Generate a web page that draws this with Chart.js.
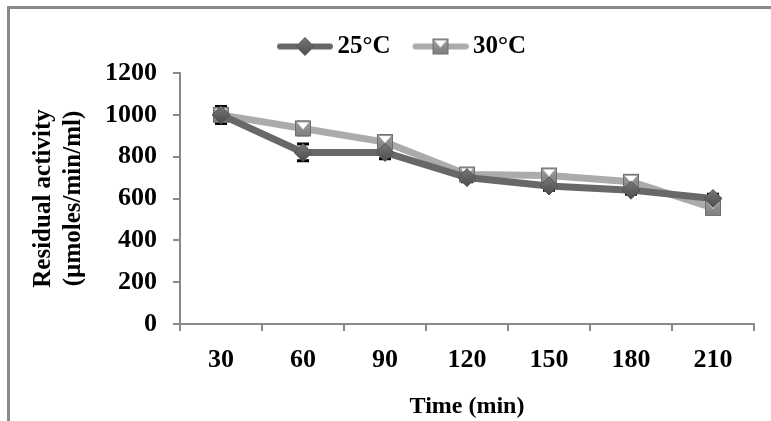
<!DOCTYPE html>
<html>
<head>
<meta charset="utf-8">
<script src="https://cdn.jsdelivr.net/npm/chart.js@4"></script>
<style>
html, body { margin: 0; padding: 0; background: #fff; }
#frame { position: absolute; left: 7px; top: 6px; width: 764px; height: 415px;
  border-top: 3px solid #8a8a8a; border-left: 3px solid #8a8a8a; }
#wrap { position: absolute; left: 0; top: 0; width: 771px; height: 421px; }
</style>
</head>
<body>
<div id="frame"></div>
<div id="wrap"><canvas id="grafico"></canvas></div>
<script>
// datos
const tiempos = ["30", "60", "90", "120", "150", "180", "210"];
const act25 = [1000, 820, 820, 700, 660, 640, 600];
const act30 = [1000, 935, 870, 715, 710, 680, 555];
const err25 = [40, 40, 30, 20, 20, 20, 20];
const err30 = [40, 30, 30, 20, 20, 20, 20];
const ticksY = [0, 200, 400, 600, 800, 1000, 1200];

const fuente = "'Liberation Serif', 'Times New Roman', serif";

// --- marcadores ---
function marcaRombo(size) {
  const c = document.createElement("canvas");
  c.width = size; c.height = size;
  const g = c.getContext("2d");
  const h = size / 2;
  const grad = g.createLinearGradient(0, 0, 0, size);
  grad.addColorStop(0, "#7a7a7a");
  grad.addColorStop(1, "#4a4a4a");
  g.fillStyle = grad;
  g.beginPath();
  g.moveTo(h, 1); g.lineTo(size - 1, h); g.lineTo(h, size - 1); g.lineTo(1, h);
  g.closePath(); g.fill();
  g.strokeStyle = "#555"; g.lineWidth = 1; g.stroke();
  return c;
}

function marcaCuadro(size) {
  const c = document.createElement("canvas");
  c.width = size; c.height = size;
  const g = c.getContext("2d");
  const grad = g.createLinearGradient(0, 0, 0, size);
  grad.addColorStop(0, "#a0a0a0");
  grad.addColorStop(1, "#7c7c7c");
  g.fillStyle = grad;
  g.fillRect(1, 1, size - 2, size - 2);
  g.strokeStyle = "#6e6e6e"; g.lineWidth = 1;
  g.strokeRect(1.5, 1.5, size - 3, size - 3);
  g.fillStyle = "#fff";
  g.beginPath();
  g.moveTo(3, 3); g.lineTo(size - 3, 3); g.lineTo(size / 2, size * 0.55);
  g.closePath(); g.fill();
  return c;
}

// imagen de leyenda: linea + marcador, corrida a la derecha para acercarla al texto
function marcaLeyenda(color, marca) {
  const c = document.createElement("canvas");
  c.width = 72; c.height = 20;
  const g = c.getContext("2d");
  g.strokeStyle = color; g.lineWidth = 6; g.lineCap = "round";
  g.beginPath(); g.moveTo(19, 10); g.lineTo(69, 10); g.stroke();
  g.drawImage(marca, 44 - marca.width / 2, 10 - marca.height / 2);
  return c;
}

const rombo = marcaRombo(20);
const cuadro = marcaCuadro(18);

// --- espacio extra bajo la leyenda ---
const espacioLeyenda = {
  id: "espacioLeyenda",
  beforeInit(chart) {
    const fitOrig = chart.legend.fit;
    chart.legend.fit = function () {
      fitOrig.bind(chart.legend)();
      this.height += 4;
    };
  }
};

// --- barras de error ---
const barrasError = {
  id: "barrasError",
  beforeDatasetsDraw(chart) {
    const ctx = chart.ctx;
    const y = chart.scales.y;
    chart.data.datasets.forEach((ds, i) => {
      const meta = chart.getDatasetMeta(i);
      meta.data.forEach((p, j) => {
        const v = ds.data[j], e = ds.errores[j];
        const top = y.getPixelForValue(v + e);
        const bot = y.getPixelForValue(v - e);
        ctx.save();
        ctx.strokeStyle = "#000";
        ctx.lineWidth = 2;
        ctx.beginPath();
        ctx.moveTo(p.x, top); ctx.lineTo(p.x, bot);
        ctx.stroke();
        ctx.lineWidth = 3;
        ctx.beginPath();
        ctx.moveTo(p.x - 6, top); ctx.lineTo(p.x + 6, top);
        ctx.moveTo(p.x - 6, bot); ctx.lineTo(p.x + 6, bot);
        ctx.stroke();
        ctx.restore();
      });
    });
  }
};

new Chart(document.getElementById("grafico"), {
  type: "line",
  data: {
    labels: tiempos,
    datasets: [
      {
        label: "25°C", data: act25, errores: err25,
        borderColor: "#686868", borderWidth: 7,
        pointStyle: rombo, pointRadius: 10,
        legendaImg: marcaLeyenda("#686868", rombo)
      },
      {
        label: "30°C", data: act30, errores: err30,
        borderColor: "#ababab", borderWidth: 7,
        pointStyle: cuadro, pointRadius: 9,
        legendaImg: marcaLeyenda("#ababab", cuadro)
      }
    ]
  },
  options: {
    responsive: true,
    maintainAspectRatio: false,
    animation: false,
    layout: { padding: { left: 29, right: 5, top: 20, bottom: 0 } },
    plugins: {
      tooltip: { enabled: false },
      legend: {
        position: "top",
        labels: {
          usePointStyle: true,
          pointStyleWidth: 56,
          color: "#000",
          font: { family: fuente, size: 25, weight: "bold" },
          padding: 14,
          generateLabels(chart) {
            return chart.data.datasets.map((ds, i) => ({
              text: ds.label,
              pointStyle: ds.legendaImg,
              fillStyle: ds.borderColor,
              strokeStyle: ds.borderColor,
              lineWidth: 0,
              datasetIndex: i,
              fontColor: "#000"
            }));
          }
        }
      }
    },
    scales: {
      x: {
        offset: true,
        grid: { offset: true, drawOnChartArea: false, drawTicks: true, tickLength: 7, color: "#8a8a8a", lineWidth: 2 },
        border: { color: "#8a8a8a", width: 2 },
        ticks: { color: "#000", padding: 14, font: { family: fuente, size: 26, weight: "bold" } },
        title: { display: true, text: "Time (min)", color: "#000", padding: { top: 2, bottom: 0 },
          font: { family: fuente, size: 24, weight: "bold" } }
      },
      y: {
        min: 0, max: 1200,
        afterBuildTicks(scale) { scale.ticks = ticksY.map(v => ({ value: v })); },
        grid: { drawOnChartArea: false, drawTicks: true, tickLength: 7, color: "#8a8a8a", lineWidth: 2 },
        border: { color: "#8a8a8a", width: 2 },
        ticks: { color: "#000", padding: 16, callback: v => String(v),
          font: { family: fuente, size: 26, weight: "bold" } },
        title: { display: true, text: ["Residual activity", "(µmoles/min/ml)"], color: "#000",
          padding: { top: 0, bottom: 0 }, font: { family: fuente, size: 25, weight: "bold", lineHeight: 1.2 } }
      }
    }
  },
  plugins: [espacioLeyenda, barrasError]
});
</script>
</body>
</html>
